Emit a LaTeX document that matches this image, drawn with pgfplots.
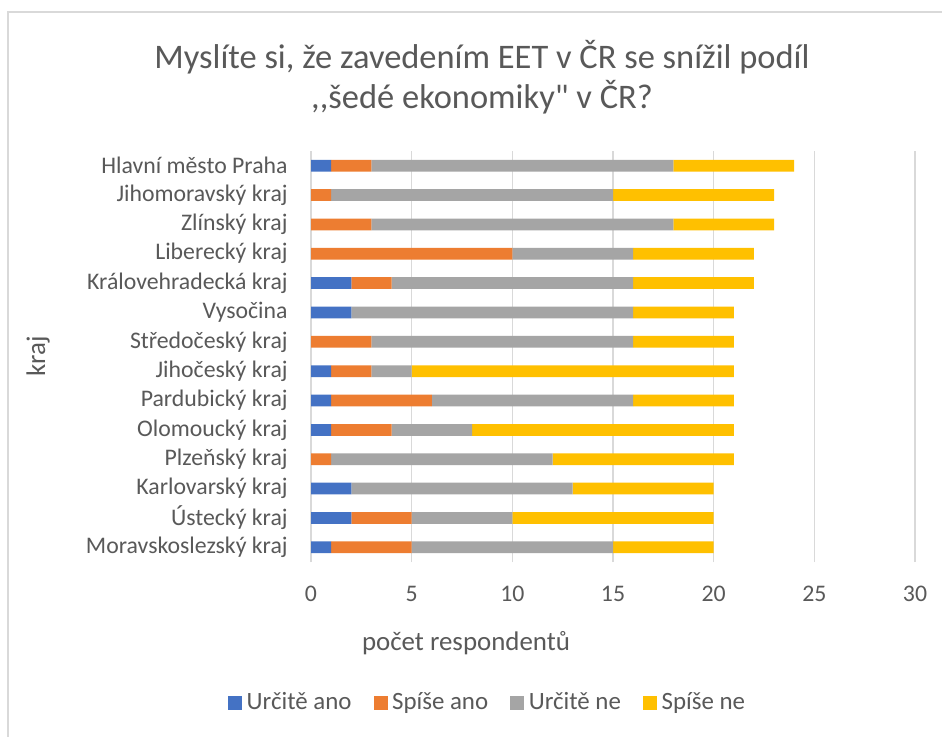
\documentclass[border=0pt]{standalone}
\usepackage{pgfplots}
\pgfplotsset{compat=1.18}
\usepackage{pgfplotstable}
\usepackage{fontspec}
\setmainfont{Carlito}[Ligatures=TeXOff]
\definecolor{cblue}{HTML}{4472C4}
\definecolor{corange}{HTML}{ED7D31}
\definecolor{cgray}{HTML}{A5A5A5}
\definecolor{cyellow}{HTML}{FFC000}
\definecolor{textgray}{HTML}{595959}
\definecolor{gridgray}{HTML}{D9D9D9}

% y: 0 = Moravskoslezsky (bottom) ... 13 = Praha (top)
\pgfplotstableread{
y a b c d
0 1 4 10 5
1 2 3 5 10
2 2 0 11 7
3 0 1 11 9
4 1 3 4 13
5 1 5 10 5
6 1 2 2 16
7 0 3 13 5
8 2 0 14 5
9 2 2 12 6
10 0 10 6 6
11 0 3 15 5
12 0 1 14 8
13 1 2 15 6
}\kraje

\newcommand{\lblfont}{\fontsize{10.7}{12.8}\selectfont}
\newcommand{\axtfont}{\fontsize{12.1}{14.5}\selectfont}
\newcommand{\legfont}{\fontsize{11.2}{13.4}\selectfont}

\begin{document}
\begin{tikzpicture}[x=0.45pt,y=0.45pt]
\path[use as bounding box] (0,0) rectangle (942,736);
\fill[white] (0,0) rectangle (942,736);
\draw[color=gridgray, line width=1.2pt] (8,-2) -- (8,724) -- (944,724);
\node[align=center, text=textgray, font=\fontsize{15.5}{18}\selectfont] at (482,659)
  {Myslíte si, že zavedením EET v ČR se snížil podíl\\,{},šedé ekonomiky" v ČR?};
\begin{axis}[
  at={(139.95pt,78.3pt)}, anchor=south west,
  scale only axis, width=271.8pt, height=184.95pt,
  xbar stacked, bar width=0.4,
  xmin=0, xmax=30, ymin=-0.5, ymax=13.5,
  xtick={0,5,...,30},
  ytick={0,...,13},
  yticklabels={Moravskoslezský kraj,Ústecký kraj,Karlovarský kraj,Plzeňský kraj,Olomoucký kraj,Pardubický kraj,Jihočeský kraj,Středočeský kraj,Vysočina,Královehradecká kraj,Liberecký kraj,Zlínský kraj,Jihomoravský kraj,Hlavní město Praha},
  xmajorgrids, grid style={color=gridgray, line width=0.7pt},
  axis line style={draw=none},
  major tick length=0pt,
  /pgf/number format/assume math mode=true,
  ticklabel style={font=\lblfont, text=textgray},
  yticklabel style={inner sep=0pt, xshift=-10.35pt},
  xticklabel style={inner sep=0pt, anchor=north, yshift=-10.8pt},
  xlabel={počet respondentů}, ylabel={kraj},
  every axis x label/.style={at={(axis description cs:0.2566,-0.197)}, anchor=center, font=\axtfont, text=textgray},
  every axis y label/.style={at={(axis description cs:-0.452,0.5)}, rotate=90, anchor=center, font=\axtfont, text=textgray},
  legend columns=4,
  legend style={draw=none, fill=none, at={(axis description cs:0.2945,-0.343)}, anchor=center,
    font=\legfont, text=textgray,
    /tikz/every even column/.append style={column sep=8pt}},
  legend image code/.code={\fill[#1] (0pt,-3.1pt) rectangle (6.3pt,3.2pt);},
]
\addplot[fill=cblue, draw=none] table[x=a, y=y] {\kraje};
\addplot[fill=corange, draw=none] table[x=b, y=y] {\kraje};
\addplot[fill=cgray, draw=none] table[x=c, y=y] {\kraje};
\addplot[fill=cyellow, draw=none] table[x=d, y=y] {\kraje};
\legend{Určitě ano,Spíše ano,Určitě ne,Spíše ne}
\end{axis}
\end{tikzpicture}
\end{document}
